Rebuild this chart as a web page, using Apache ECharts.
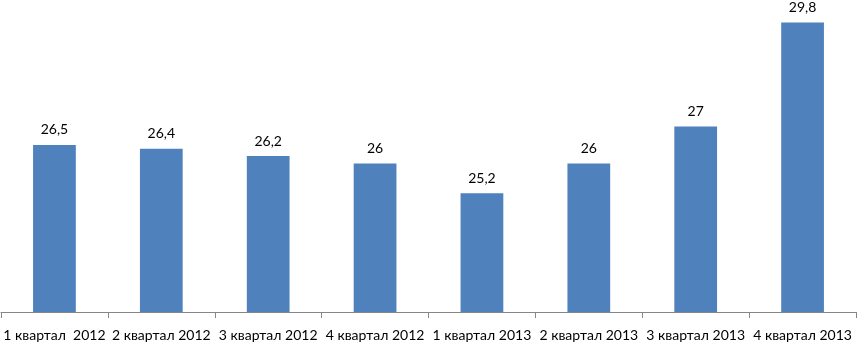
<!DOCTYPE html>
<html>
<head>
<meta charset="utf-8">
<script src="https://cdn.jsdelivr.net/npm/echarts@6/dist/echarts.min.js"></script>
<style>
  html, body { margin: 0; padding: 0; background: #fff; }
  #chart { width: 857px; height: 345px; }
</style>
</head>
<body>
<div id="chart"></div>
<script>
const quarters = [
  '1 квартал  2012', '2 квартал 2012', '3 квартал 2012', '4 квартал 2012',
  '1 квартал 2013', '2 квартал 2013', '3 квартал 2013', '4 квартал 2013'
]
const values = [26.5, 26.4, 26.2, 26, 25.2, 26, 27, 29.8]

const chart = echarts.init(document.getElementById('chart'))
chart.setOption({
  animation: false,
  textStyle: { fontFamily: 'Lato' },
  grid: { top: 15, left: 1, right: 1, bottom: 33 },
  xAxis: {
    type: 'category',
    data: quarters,
    axisLine: { lineStyle: { color: '#868686' } },
    axisTick: { show: true, length: 6, lineStyle: { color: '#868686' } },
    axisLabel: { color: '#000', fontSize: 14, margin: 16, interval: 0 },
  },
  yAxis: {
    type: 'value',
    min: 22,
    max: 30,
    show: false,
  },
  series: [
    {
      type: 'bar',
      barWidth: '40%',
      data: values,
      itemStyle: { color: '#4F81BD' },
      label: {
        show: true,
        position: 'top',
        distance: 8,
        color: '#000',
        fontSize: 14,
        formatter: p => String(p.value).replace('.', ','),
      },
    },
  ],
})
</script>
</body>
</html>
